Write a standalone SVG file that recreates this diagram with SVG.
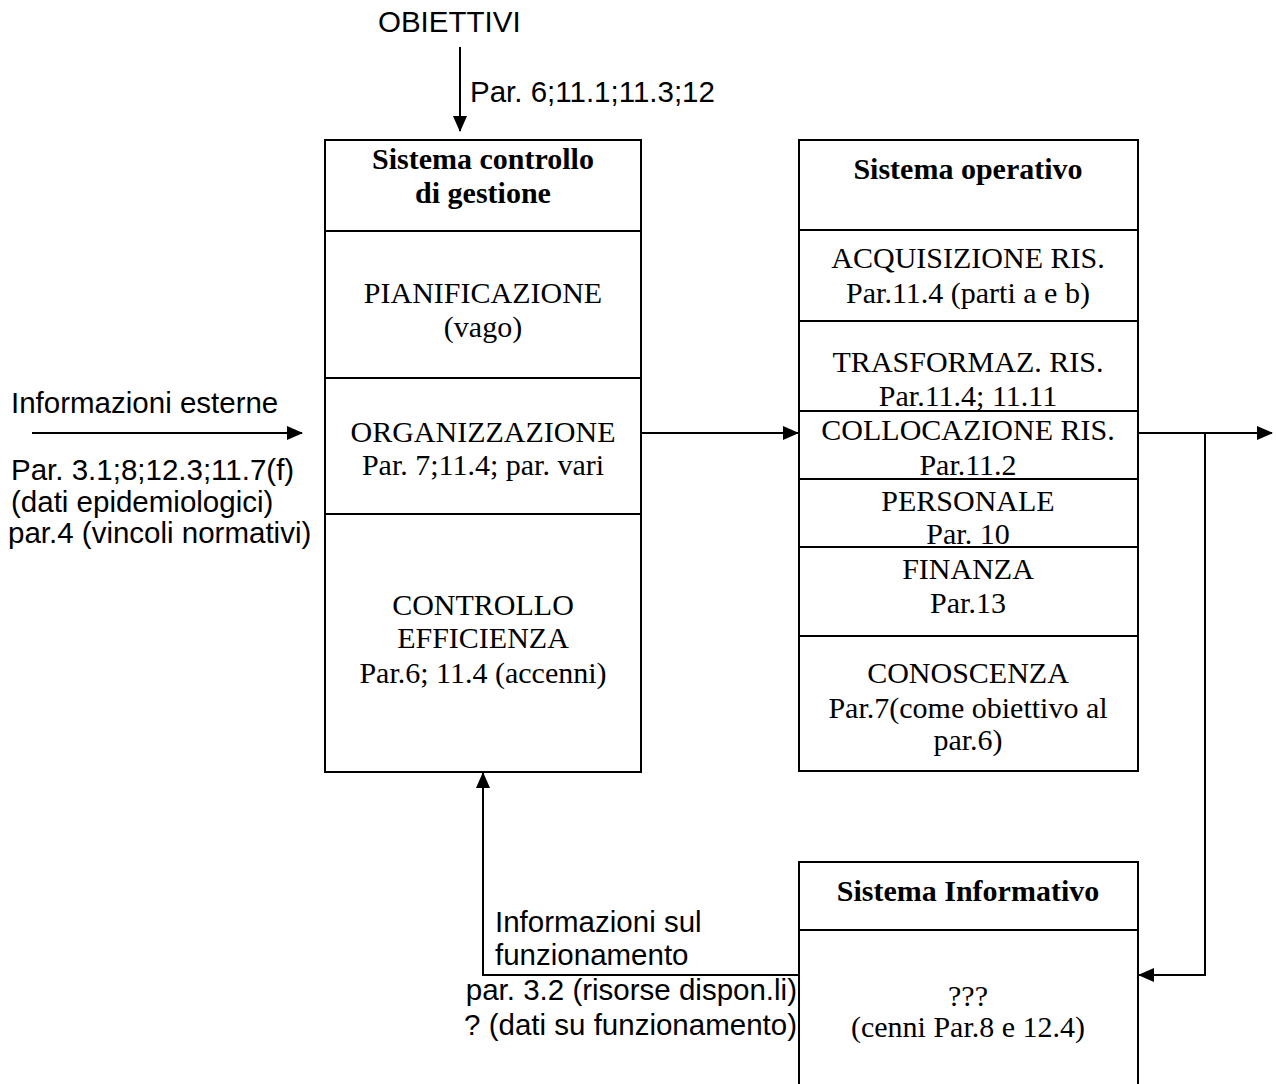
<svg xmlns="http://www.w3.org/2000/svg" width="1276" height="1084" viewBox="0 0 1276 1084">
<style>
.box{fill:#fff;stroke:#000;stroke-width:2}
.div{stroke:#000;stroke-width:2}
.con{fill:none;stroke:#000;stroke-width:2}
.sr{font-family:"Liberation Serif","Times New Roman",serif;font-size:30px;fill:#000;text-anchor:middle}
.b{font-weight:bold}
.ss{font-family:"Liberation Sans",Arial,sans-serif;font-size:29.5px;fill:#000}
</style>
<defs>
<marker id="arr" markerUnits="userSpaceOnUse" markerWidth="16" markerHeight="14" viewBox="0 0 16 14" refX="15" refY="7" orient="auto">
<path d="M0,0 L16,7 L0,14 z" fill="#000"/>
</marker>
</defs>
<rect width="1276" height="1084" fill="#fff"/>

<g id="connectors">
<line class="con" x1="460" y1="47" x2="460" y2="131" marker-end="url(#arr)"/>
<line class="con" x1="32" y1="433" x2="302" y2="433" marker-end="url(#arr)"/>
<line class="con" x1="641" y1="433" x2="798" y2="433" marker-end="url(#arr)"/>
<line class="con" x1="1138" y1="433" x2="1272" y2="433" marker-end="url(#arr)"/>
<polyline class="con" points="1205,433 1205,975 1139,975" marker-end="url(#arr)"/>
<polyline class="con" points="798,975 483,975 483,773" marker-end="url(#arr)"/>
</g>

<g id="labels">
<text class="ss" x="378" y="32">OBIETTIVI</text>
<text class="ss" x="470" y="102">Par. 6;11.1;11.3;12</text>
<text class="ss" x="11" y="413">Informazioni esterne</text>
<text class="ss" x="11" y="480">Par. 3.1;8;12.3;11.7(f)</text>
<text class="ss" x="11" y="512">(dati epidemiologici)</text>
<text class="ss" x="8" y="543">par.4 (vincoli normativi)</text>
<text class="ss" x="495" y="932">Informazioni sul</text>
<text class="ss" x="495" y="965">funzionamento</text>
<text class="ss" x="797" y="1000" text-anchor="end">par. 3.2 (risorse dispon.li)</text>
<text class="ss" x="797" y="1035" text-anchor="end">? (dati su funzionamento)</text>
</g>

<g id="sistema-controllo">
<rect class="box" x="325" y="140" width="316" height="632"/>
<line class="div" x1="325" y1="231" x2="641" y2="231"/>
<line class="div" x1="325" y1="378" x2="641" y2="378"/>
<line class="div" x1="325" y1="514" x2="641" y2="514"/>
<text class="sr b" x="483" y="169">Sistema controllo</text>
<text class="sr b" x="483" y="203">di gestione</text>
<text class="sr" x="483" y="303">PIANIFICAZIONE</text>
<text class="sr" x="483" y="337">(vago)</text>
<text class="sr" x="483" y="442">ORGANIZZAZIONE</text>
<text class="sr" x="483" y="475">Par. 7;11.4; par. vari</text>
<text class="sr" x="483" y="615">CONTROLLO</text>
<text class="sr" x="483" y="648">EFFICIENZA</text>
<text class="sr" x="483" y="683">Par.6; 11.4 (accenni)</text>
</g>

<g id="sistema-operativo">
<rect class="box" x="799" y="140" width="339" height="631"/>
<line class="div" x1="799" y1="230" x2="1138" y2="230"/>
<line class="div" x1="799" y1="321" x2="1138" y2="321"/>
<line class="div" x1="799" y1="411" x2="1138" y2="411"/>
<line class="div" x1="799" y1="479" x2="1138" y2="479"/>
<line class="div" x1="799" y1="547" x2="1138" y2="547"/>
<line class="div" x1="799" y1="636" x2="1138" y2="636"/>
<text class="sr b" x="968" y="179">Sistema operativo</text>
<text class="sr" x="968" y="268">ACQUISIZIONE RIS.</text>
<text class="sr" x="968" y="303">Par.11.4 (parti a e b)</text>
<text class="sr" x="968" y="372">TRASFORMAZ. RIS.</text>
<text class="sr" x="968" y="406">Par.11.4; 11.11</text>
<text class="sr" x="968" y="440">COLLOCAZIONE RIS.</text>
<text class="sr" x="968" y="475">Par.11.2</text>
<text class="sr" x="968" y="511">PERSONALE</text>
<text class="sr" x="968" y="544">Par. 10</text>
<text class="sr" x="968" y="579">FINANZA</text>
<text class="sr" x="968" y="613">Par.13</text>
<text class="sr" x="968" y="683">CONOSCENZA</text>
<text class="sr" x="968" y="718">Par.7(come obiettivo al</text>
<text class="sr" x="968" y="750">par.6)</text>
</g>

<g id="sistema-informativo">
<rect class="box" x="799" y="862" width="339" height="240"/>
<line class="div" x1="799" y1="930" x2="1138" y2="930"/>
<text class="sr b" x="968" y="901">Sistema Informativo</text>
<text class="sr" x="968" y="1006">???</text>
<text class="sr" x="968" y="1037">(cenni Par.8 e 12.4)</text>
</g>
</svg>
